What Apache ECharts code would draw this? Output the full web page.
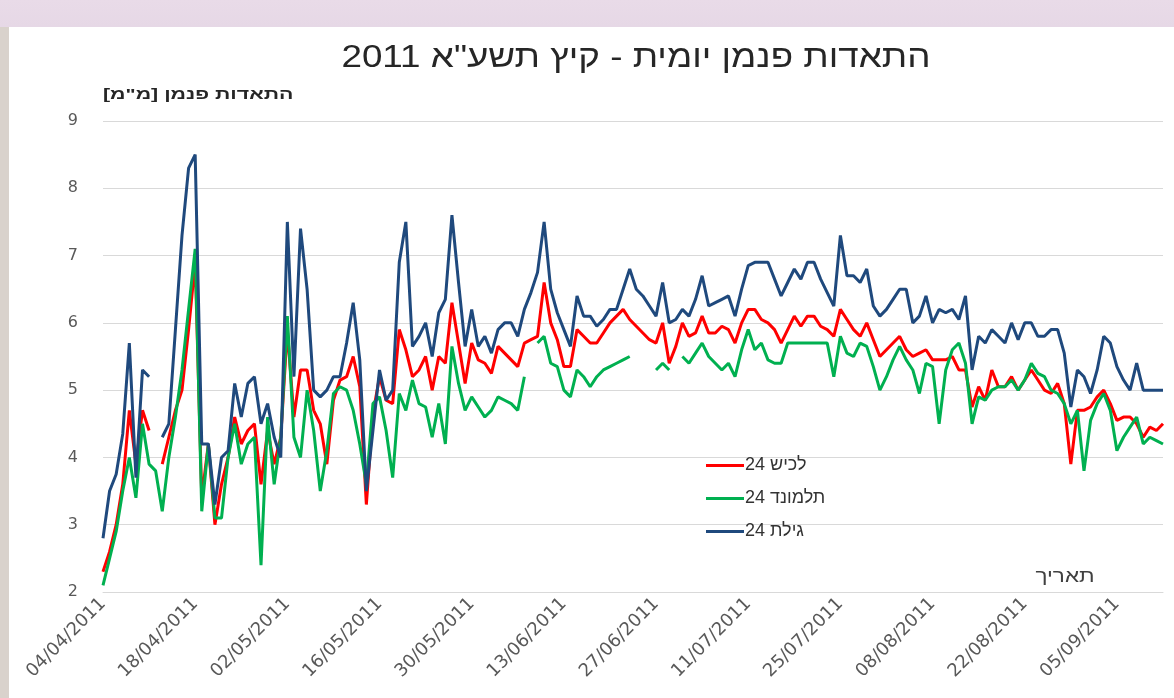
<!DOCTYPE html>
<html>
<head>
<meta charset="utf-8">
<script src="https://cdn.jsdelivr.net/npm/echarts@6/dist/echarts.min.js"></script>
<style>
  html, body { margin: 0; padding: 0; width: 1174px; height: 698px; overflow: hidden;
    background: linear-gradient(180deg, #e9dbe8 0px, #e6d8e6 27px, #d9d2cc 27px); }
  #chart { position: absolute; left: 9px; top: 27px; width: 1165px; height: 671px; background: #ffffff; }
</style>
</head>
<body>
<div id="chart"></div>
<script>
// ---- data ----
var startDate = [2011, 3, 4]; // 04/04/2011 (month index 3 = April)
var titleText = '\u202Bהתאדות פנמן יומית - קיץ תשע"א 2011\u202C';
var yAxisName = '\u202Bהתאדות פנמן [מ"מ]\u202C';
var xAxisName = 'תאריך';
var seriesNames = ['\u202Bלכיש 24\u202C', '\u202Bתלמונד 24\u202C', '\u202Bגילת 24\u202C'];

var lachish = [
2.3,2.6,3.0,3.6,4.7,3.9,4.7,4.4,null,3.9,4.3,4.7,5.0,5.9,6.9,3.4,4.2,3.0,3.6,4.0,
4.6,4.2,4.4,4.5,3.6,4.4,3.9,4.3,5.9,4.6,5.3,5.3,4.7,4.5,3.9,4.85,5.15,5.2,5.5,5.05,
3.3,4.65,5.2,4.85,4.8,5.9,5.6,5.2,5.3,5.5,5.0,5.5,5.4,6.3,5.7,5.1,5.7,5.45,5.4,5.25,
5.65,5.55,5.45,5.35,5.7,5.75,5.8,6.6,6.0,5.75,5.35,5.35,5.9,5.8,5.7,5.7,5.85,6.0,6.1,6.2,
6.05,5.95,5.85,5.75,5.7,6.0,5.4,5.65,6.0,5.8,5.85,6.1,5.85,5.85,5.95,5.9,5.7,6.0,6.2,6.2,
6.05,6.0,5.9,5.7,5.9,6.1,5.95,6.1,6.1,5.95,5.9,5.8,6.2,6.05,5.9,5.8,6.0,5.75,5.5,5.6,
5.7,5.8,5.6,5.5,5.55,5.6,5.45,5.45,5.45,5.5,5.3,5.3,4.75,5.05,4.85,5.3,5.05,5.05,5.2,5.0,
5.15,5.3,5.15,5.0,4.95,5.1,4.8,3.9,4.7,4.7,4.75,4.9,5.0,4.8,4.55,4.6,4.6,4.5,4.3,4.45,
4.4,4.5
];
var talmond = [
2.1,2.5,2.9,3.5,4.0,3.4,4.5,3.9,3.8,3.2,4.0,4.6,5.3,6.2,7.1,3.2,4.2,3.1,3.1,4.0,
4.5,3.9,4.2,4.3,2.4,4.6,3.6,4.3,6.1,4.3,4.0,5.0,4.4,3.5,4.1,4.95,5.05,5.0,4.7,4.2,
3.6,4.8,4.9,4.4,3.7,4.95,4.7,5.15,4.8,4.75,4.3,4.8,4.2,5.65,5.1,4.7,4.9,4.75,4.6,4.7,
4.9,4.85,4.8,4.7,5.2,null,5.7,5.8,5.4,5.35,5.0,4.9,5.3,5.2,5.05,5.2,5.3,5.35,5.4,5.45,
5.5,null,null,null,5.3,5.4,5.3,null,5.5,5.4,5.55,5.7,5.5,5.4,5.3,5.4,5.2,5.6,5.9,5.6,
5.7,5.45,5.4,5.4,5.7,5.7,5.7,5.7,5.7,5.7,5.7,5.2,5.8,5.55,5.5,5.7,5.65,5.35,5.0,5.2,
5.45,5.65,5.45,5.3,4.95,5.4,5.35,4.5,5.3,5.6,5.7,5.4,4.5,4.9,4.85,5.0,5.05,5.05,5.15,5.0,
5.15,5.4,5.25,5.2,5.0,4.95,4.8,4.5,4.7,3.8,4.55,4.8,4.95,4.7,4.1,4.3,4.45,4.6,4.2,4.3,
4.25,4.2
];
var gilat = [
2.8,3.5,3.75,4.35,5.7,3.7,5.3,5.2,null,4.3,4.5,5.9,7.3,8.3,8.5,4.2,4.2,3.3,4.0,4.1,
5.1,4.6,5.1,5.2,4.5,4.8,4.3,4.0,7.5,5.2,7.4,6.5,5.0,4.9,5.0,5.2,5.2,5.7,6.3,5.45,
3.5,4.4,5.3,4.85,5.0,6.9,7.5,5.65,5.8,6.0,5.5,6.15,6.35,7.6,6.6,5.65,6.2,5.65,5.8,5.55,
5.9,6.0,6.0,5.8,6.2,6.45,6.75,7.5,6.5,6.15,5.9,5.65,6.4,6.1,6.1,5.95,6.05,6.2,6.2,6.5,
6.8,6.5,6.4,6.25,6.1,6.6,6.0,6.05,6.2,6.1,6.35,6.7,6.25,6.3,6.35,6.4,6.1,6.5,6.85,6.9,
6.9,6.9,6.65,6.4,6.6,6.8,6.65,6.9,6.9,6.65,6.45,6.25,7.3,6.7,6.7,6.6,6.8,6.25,6.1,6.2,
6.35,6.5,6.5,6.0,6.1,6.4,6.0,6.2,6.15,6.2,6.05,6.4,5.3,5.8,5.7,5.9,5.8,5.7,6.0,5.75,
6.0,6.0,5.8,5.8,5.9,5.9,5.55,4.75,5.3,5.2,4.95,5.3,5.8,5.7,5.35,5.15,5.0,5.4,5.0,5.0,
5.0,5.0
];
var yTicks = [2, 3, 4, 5, 6, 7, 8, 9];

// categories: consecutive daily dates from startDate
function pad(n) { return (n < 10 ? '0' : '') + n; }
var categories = [];
for (var i = 0; i < gilat.length; i++) {
  var dt = new Date(Date.UTC(startDate[0], startDate[1], startDate[2] + i));
  categories.push(pad(dt.getUTCDate()) + '/' + pad(dt.getUTCMonth() + 1) + '/' + dt.getUTCFullYear());
}

var FONT = 'Arial, "Liberation Sans", sans-serif';
var WIDE = '"DejaVu Sans", Arial, "Liberation Sans", sans-serif';
var chart = echarts.init(document.getElementById('chart'), null, { renderer: 'canvas' });
chart.setOption({
  animation: false,
  backgroundColor: '#ffffff',
  textStyle: { fontFamily: FONT },
  legend: {
    orient: 'vertical',
    left: 692, top: 424,
    itemWidth: 38, itemHeight: 3, itemGap: 14,
    icon: 'rect',
    textStyle: { fontFamily: FONT, fontSize: 18, lineHeight: 19, color: '#333333', padding: [0, 0, 0, -4] },
    data: seriesNames
  },
  graphic: [
    { type: 'text', x: 627, y: 31, scaleX: 1.15, scaleY: 1,
      style: { text: titleText, font: '32px ' + FONT, fill: '#262626',
               textAlign: 'center', textVerticalAlign: 'middle', align: 'center', verticalAlign: 'middle' } },
    { type: 'text', x: 94, y: 68, scaleX: 1.42, scaleY: 1,
      style: { text: yAxisName, font: 'bold 15px ' + FONT, fill: '#262626',
               textAlign: 'left', textVerticalAlign: 'middle', align: 'left', verticalAlign: 'middle' } },
    { type: 'text', x: 1056, y: 550, scaleX: 1.25, scaleY: 1,
      style: { text: xAxisName, font: '18px ' + FONT, fill: '#404040',
               textAlign: 'center', textVerticalAlign: 'middle', align: 'center', verticalAlign: 'middle' } }
  ],
  grid: { left: 94, right: 11, top: 94, bottom: 106, containLabel: false },
  xAxis: {
    type: 'category',
    data: categories,
    boundaryGap: false,
    axisLine: { show: true, lineStyle: { color: '#d9d9d9', width: 1 } },
    axisTick: { show: false },
    axisLabel: { interval: 13, rotate: 45, fontSize: 18, color: '#595959', fontFamily: WIDE, margin: 9 },
    splitLine: { show: false }
  },
  yAxis: {
    type: 'value',
    min: yTicks[0], max: yTicks[yTicks.length - 1], interval: 1,
    axisLine: { show: false },
    axisTick: { show: false },
    axisLabel: { fontSize: 16, color: '#595959', margin: 25, fontFamily: WIDE },
    splitLine: { show: true, lineStyle: { color: '#d9d9d9', width: 1 } }
  },
  series: [
    { name: seriesNames[0], type: 'line', data: lachish, showSymbol: false, connectNulls: false,
      color: '#ff0000', lineStyle: { width: 3, color: '#ff0000' } },
    { name: seriesNames[1], type: 'line', data: talmond, showSymbol: false, connectNulls: false,
      color: '#00b050', lineStyle: { width: 3, color: '#00b050' } },
    { name: seriesNames[2], type: 'line', data: gilat, showSymbol: false, connectNulls: false,
      color: '#1f497d', lineStyle: { width: 3, color: '#1f497d' } }
  ]
});
</script>
</body>
</html>
